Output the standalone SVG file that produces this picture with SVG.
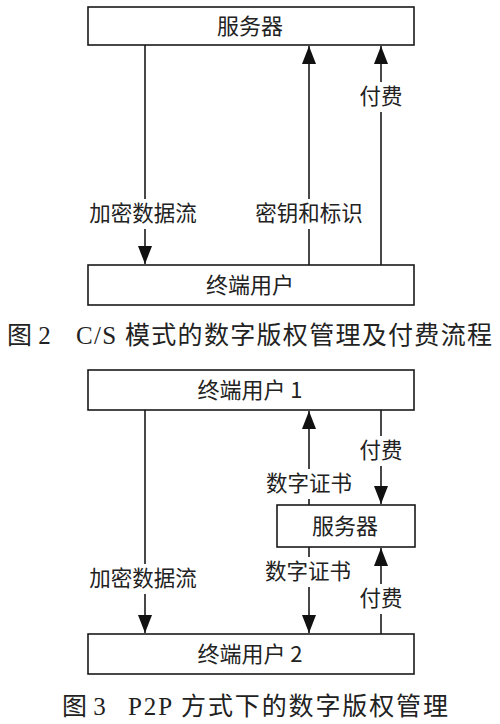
<svg xmlns="http://www.w3.org/2000/svg" width="500" height="724" viewBox="0 0 500 724">
<style>
.box{fill:#fff;stroke:#1a1a1a;stroke-width:1.6}
.ln{stroke:#1a1a1a;stroke-width:1.6;fill:none}
.t{font-family:"Noto Sans CJK SC","Noto Sans",sans-serif;font-size:22px;fill:#222;text-anchor:middle}
.lb{font-family:"Noto Sans CJK SC","Noto Sans",sans-serif;font-size:21.5px;fill:#222;text-anchor:middle}
.cap{font-family:"Liberation Serif","Noto Sans CJK SC",serif;font-size:25px;fill:#222}
.bg{fill:#fff}
</style>
<defs>
<marker id="a" viewBox="0 0 18 14" refX="18" refY="7" markerWidth="18" markerHeight="14" markerUnits="userSpaceOnUse" orient="auto">
<path d="M0,0 L18,7 L0,14 Z" fill="#111"/>
</marker>
</defs>
<rect width="500" height="724" fill="#fff"/>

<g id="connectors">
<!-- Figure 2 -->
<line class="ln" x1="145" y1="45" x2="145" y2="264" marker-end="url(#a)"/>
<line class="ln" x1="309" y1="265" x2="309" y2="46" marker-end="url(#a)"/>
<line class="ln" x1="381" y1="265" x2="381" y2="46" marker-end="url(#a)"/>
<!-- Figure 3 -->
<line class="ln" x1="145" y1="410" x2="145" y2="633" marker-end="url(#a)"/>
<line class="ln" x1="309" y1="505" x2="309" y2="411" marker-end="url(#a)"/>
<line class="ln" x1="381" y1="410" x2="381" y2="504" marker-end="url(#a)"/>
<line class="ln" x1="309" y1="547" x2="309" y2="633" marker-end="url(#a)"/>
<line class="ln" x1="381" y1="634" x2="381" y2="548" marker-end="url(#a)"/>
</g>

<g id="labels">
<rect class="bg" x="85" y="199" width="118" height="30"/>
<text class="lb" x="143" y="221">加密数据流</text>
<rect class="bg" x="249" y="199" width="120" height="30"/>
<text class="lb" x="309" y="221">密钥和标识</text>
<rect class="bg" x="356" y="82" width="50" height="30"/>
<text class="lb" x="381" y="104">付费</text>

<rect class="bg" x="262" y="469" width="94" height="30"/>
<text class="lb" x="309" y="491">数字证书</text>
<rect class="bg" x="356" y="436" width="50" height="30"/>
<text class="lb" x="381" y="458">付费</text>
<rect class="bg" x="85" y="564" width="118" height="30"/>
<text class="lb" x="143" y="586">加密数据流</text>
<rect class="bg" x="260" y="557" width="98" height="30"/>
<text class="lb" x="308" y="579">数字证书</text>
<rect class="bg" x="356" y="584" width="50" height="30"/>
<text class="lb" x="381" y="606">付费</text>
</g>

<g id="server1">
<rect class="box" x="88" y="7" width="326" height="38"/>
<text class="t" x="250" y="34">服务器</text>
</g>
<g id="user1">
<rect class="box" x="88" y="265" width="326" height="40"/>
<text class="t" x="250" y="293">终端用户</text>
</g>

<g id="p2p-user1">
<rect class="box" x="88" y="370" width="326" height="40"/>
<text class="t" x="250" y="398">终端用户 1</text>
</g>
<g id="server2">
<rect class="box" x="277" y="505" width="138" height="42"/>
<text class="t" x="345" y="534">服务器</text>
</g>
<g id="p2p-user2">
<rect class="box" x="88" y="634" width="326" height="40"/>
<text class="t" x="250" y="662">终端用户 2</text>
</g>

<g id="captions">
<text class="cap" x="7" y="344">图 2</text>
<text class="cap" x="76" y="344" textLength="416" lengthAdjust="spacing">C/S 模式的数字版权管理及付费流程</text>
<text class="cap" x="62" y="715">图 3</text>
<text class="cap" x="128" y="715" textLength="320" lengthAdjust="spacing">P2P 方式下的数字版权管理</text>
</g>
</svg>
